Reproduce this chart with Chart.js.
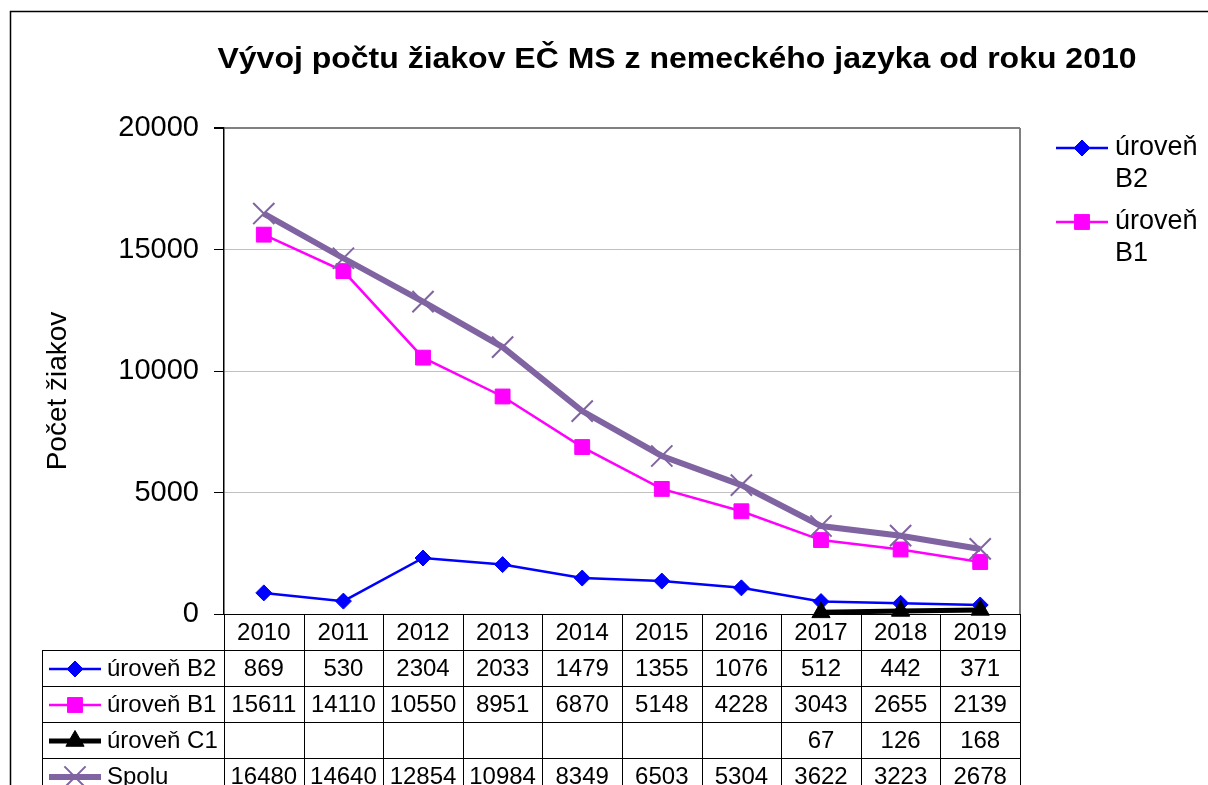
<!DOCTYPE html>
<html>
<head>
<meta charset="utf-8">
<script src="https://cdn.jsdelivr.net/npm/chart.js@4.4.1/dist/chart.umd.min.js"></script>
<style>
html,body{margin:0;padding:0;background:#fff;}
#wrap{width:1208px;height:785px;overflow:hidden;}
</style>
</head>
<body>
<div id="wrap"><canvas id="c" width="1208" height="785"></canvas></div>
<script>
const titleText = 'Vývoj počtu žiakov EČ MS z nemeckého jazyka od roku 2010';
const yTitle = 'Počet žiakov';
const years = ['2010','2011','2012','2013','2014','2015','2016','2017','2018','2019'];
const seriesNames = ['úroveň B2','úroveň B1','úroveň C1','Spolu'];
const b2 = [869,530,2304,2033,1479,1355,1076,512,442,371];
const b1 = [15611,14110,10550,8951,6870,5148,4228,3043,2655,2139];
const c1 = [null,null,null,null,null,null,null,67,126,168];
const spolu = [16480,14640,12854,10984,8349,6503,5304,3622,3223,2678];
const yMin = 0, yMax = 20000, yStep = 5000;

const FONT = "'Liberation Sans', Arial, sans-serif";

const styles = [
  {color:'#0000FF', lw:2.5, style:'rectRot', r:8, ord:3},
  {color:'#FF00FF', lw:2.5, style:'rect', r:10.5, ord:2},
  {color:'#000000', lw:5, style:'triangle', r:10.5, ord:1},
  {color:'#8064A2', lw:6, style:'crossRot', r:15, ord:0}
];
const values = [b2, b1, c1, spolu];

const datasets = values.map((v,i)=>({
  label: seriesNames[i],
  data: v,
  borderColor: styles[i].color,
  backgroundColor: styles[i].color,
  borderWidth: styles[i].lw,
  pointStyle: styles[i].style,
  pointRadius: styles[i].r,
  pointHoverRadius: styles[i].r,
  pointBorderWidth: i===3 ? 2 : 1,
  pointBorderColor: styles[i].color,
  pointBackgroundColor: styles[i].color,
  tension: 0,
  spanGaps: false,
  clip: false,
  order: styles[i].ord
}));

function marker(ctx, i, x, y) {
  Chart.helpers.drawPoint(ctx, {
    pointStyle: styles[i].style, radius: styles[i].r, rotation: 0,
    borderWidth: i===3 ? 2 : 1
  }, x, y);
}
function key(ctx, i, x1, x2, y) {
  ctx.save();
  ctx.strokeStyle = styles[i].color;
  ctx.fillStyle = styles[i].color;
  ctx.lineWidth = styles[i].lw;
  ctx.beginPath(); ctx.moveTo(x1, y); ctx.lineTo(x2, y); ctx.stroke();
  ctx.lineWidth = i===3 ? 2 : 1;
  marker(ctx, i, (x1+x2)/2, y);
  ctx.restore();
}

const deco = {
  id: 'deco',
  beforeDraw(chart) {
    const ctx = chart.ctx;
    ctx.save();
    ctx.fillStyle = '#fff';
    ctx.fillRect(0,0,chart.width,chart.height);
    ctx.restore();
  },
  afterDraw(chart) {
    const ctx = chart.ctx;
    const ca = chart.chartArea;
    const xs = chart.scales.x;
    ctx.save();
    // outer border
    ctx.strokeStyle = '#000'; ctx.lineWidth = 1.5;
    ctx.beginPath(); ctx.moveTo(10.5, chart.height); ctx.lineTo(10.5, 11.5); ctx.lineTo(chart.width, 11.5); ctx.stroke();
    // plot right border
    ctx.strokeStyle = '#808080'; ctx.lineWidth = 2;
    ctx.beginPath(); ctx.moveTo(ca.right, ca.top); ctx.lineTo(ca.right, ca.bottom); ctx.stroke();
    // title (stretched horizontally to match)
    ctx.fillStyle = '#000';
    ctx.font = 'bold 29px ' + FONT;
    ctx.textAlign = 'center'; ctx.textBaseline = 'alphabetic';
    ctx.save();
    const tw = ctx.measureText(titleText).width;
    ctx.translate(677, 68);
    ctx.scale(919 / tw, 1);
    ctx.fillText(titleText, 0, 0);
    ctx.restore();
    // y title
    ctx.save();
    ctx.translate(58, 391); ctx.rotate(-Math.PI/2);
    ctx.font = '28px ' + FONT; ctx.textBaseline = 'middle';
    ctx.fillText(yTitle, 0, 0);
    ctx.restore();
    // legend (right)
    ctx.font = '27px ' + FONT; ctx.textAlign = 'left'; ctx.textBaseline = 'middle';
    const legY = [148, 222];
    [0,1].forEach((i,k)=>{
      key(ctx, i, 1056, 1108, legY[k]);
      ctx.fillStyle = '#000';
      const parts = seriesNames[i].split(' ');
      ctx.fillText(parts[0], 1115, legY[k]);
      ctx.fillText(parts[1], 1115, legY[k] + 32);
    });
    // data table
    const step = xs.getPixelForValue(1) - xs.getPixelForValue(0);
    const right = ca.right, top = ca.bottom;
    const rowH = 36, tblLeft = 42;
    const nRows = 5;
    ctx.strokeStyle = '#000'; ctx.lineWidth = 1;
    ctx.beginPath();
    for (let r = 1; r < nRows; r++) {
      const y = Math.round(top + r*rowH) + 0.5;
      ctx.moveTo(tblLeft, y); ctx.lineTo(right, y);
    }
    ctx.moveTo(tblLeft + 0.5, top + rowH); ctx.lineTo(tblLeft + 0.5, top + rowH*nRows);
    for (let c = 0; c <= years.length; c++) {
      const x = Math.round(xs.getPixelForValue(c) - step/2) + 0.5;
      ctx.moveTo(x, top); ctx.lineTo(x, top + rowH*nRows);
    }
    ctx.stroke();
    ctx.font = '24px ' + FONT; ctx.textAlign = 'center'; ctx.textBaseline = 'middle';
    ctx.fillStyle = '#000';
    years.forEach((yv, c) => ctx.fillText(yv, xs.getPixelForValue(c), top + rowH/2 + 1));
    values.forEach((arr, r) => {
      const yc = top + rowH*(r+1) + rowH/2 + 1;
      key(ctx, r, 49, 101, yc);
      ctx.fillStyle = '#000'; ctx.textAlign = 'left';
      ctx.fillText(seriesNames[r], 107, yc);
      ctx.textAlign = 'center';
      arr.forEach((v, c) => { if (v !== null) ctx.fillText(String(v), xs.getPixelForValue(c), yc); });
    });
    ctx.restore();
  }
};

new Chart(document.getElementById('c'), {
  type: 'line',
  data: { labels: years, datasets },
  options: {
    responsive: false,
    devicePixelRatio: 1,
    animation: false,
    layout: { padding: { top: 128, right: 188, bottom: 171, left: 0 } },
    plugins: { legend: { display: false }, title: { display: false }, tooltip: { enabled: false } },
    scales: {
      x: { type: 'category', offset: true, display: false },
      y: {
        min: yMin, max: yMax,
        afterFit(s) { s.width = 224; },
        ticks: { stepSize: yStep, color: '#000', font: { size: 29, family: FONT }, padding: 15,
                 callback: v => String(v) },
        grid: {
          color: c => c.tick.value === yMax ? '#808080' : (c.tick.value === yMin ? '#000' : '#c0c0c0'),
          lineWidth: c => c.tick.value === yMax ? 2 : 1,
          tickColor: '#000', tickLength: 10
        },
        border: { color: '#000', width: 1.5 }
      }
    }
  },
  plugins: [deco]
});
</script>
</body>
</html>
